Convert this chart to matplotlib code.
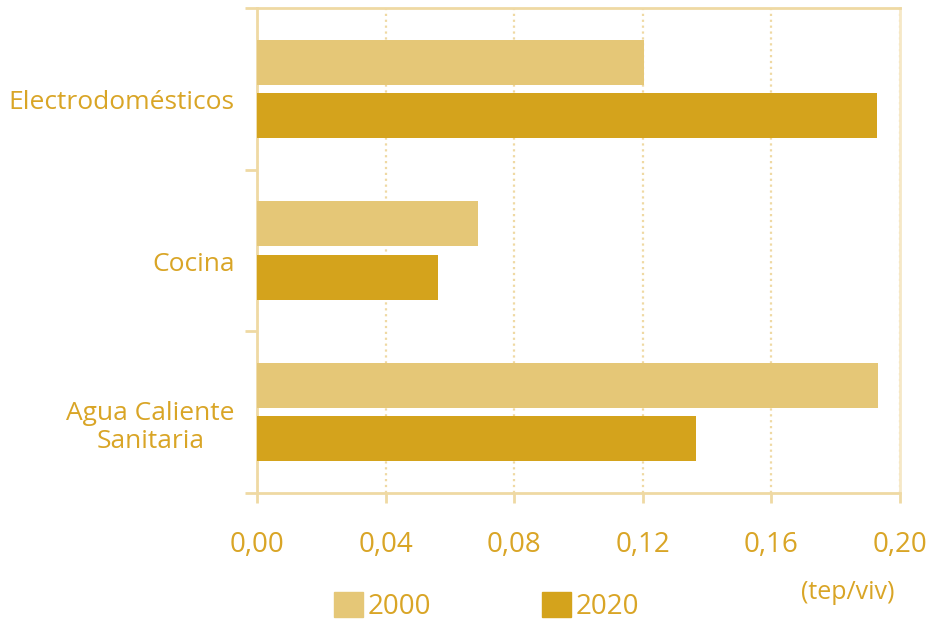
import numpy as np
import matplotlib.pyplot as plt
from matplotlib.patches import Patch

plt.rcParams['font.family'] = ['Open Sans', 'DejaVu Sans']

categorias = ['Electrodomésticos', 'Cocina', 'Agua Caliente\nSanitaria']
valores_2000 = [0.1205, 0.0688, 0.1932]
valores_2020 = [0.1928, 0.0563, 0.1365]
ticks_x = [0.00, 0.04, 0.08, 0.12, 0.16, 0.20]

c_claro = '#E5C777'
c_oscuro = '#D4A31C'
c_texto = '#D9A526'
c_eje = '#EFD9A3'

fig = plt.figure(figsize=(9.39, 6.25), dpi=100)
ax = fig.add_axes([0.2737, 0.2112, 0.9585 - 0.2737, 0.9872 - 0.2112])

y = np.arange(len(categorias))
alto = 0.28
ax.barh(y - 0.165, valores_2000, height=alto, color=c_claro, label='2000', zorder=3)
ax.barh(y + 0.165, valores_2020, height=alto, color=c_oscuro, label='2020', zorder=3)

ax.set_xlim(0, 0.20)
ax.set_ylim(2.5, -0.5)

ax.set_xticks(ticks_x)
ax.set_xticklabels([f'{t:.2f}'.replace('.', ',') for t in ticks_x],
                   fontsize=20, color=c_texto)
# etiquetas de categoría algo por debajo del centro del grupo
ax.set_yticks(y + 0.065)
ax.set_yticklabels(categorias, fontsize=19, color=c_texto, linespacing=1.15)
for et in ax.get_yticklabels():
    et.set_multialignment('center')
ax.set_yticks([-0.5, 0.5, 1.5, 2.5], minor=True)

ax.tick_params(axis='x', length=7, width=2, color=c_eje, pad=20)
ax.tick_params(axis='y', which='major', length=0, pad=16)
ax.tick_params(axis='y', which='minor', length=9, width=2, color=c_eje)

for lado in ['left', 'bottom', 'top']:
    ax.spines[lado].set_color(c_eje)
    ax.spines[lado].set_linewidth(2)
ax.spines['right'].set_color('#F6E8C6')
ax.spines['right'].set_linewidth(2)

ax.grid(axis='x', linestyle=':', color=c_eje, linewidth=1.6, zorder=0)

manejadores = [Patch(color=c_claro, label='2000'), Patch(color=c_oscuro, label='2020')]
fig.legend(handles=manejadores, loc='center', bbox_to_anchor=(0.518, 0.03), ncol=2,
           frameon=False, fontsize=20, labelcolor=c_texto, handlelength=1.05,
           handleheight=1.05, handletextpad=0.15, columnspacing=4.0)

fig.text(0.953, 0.052, '(tep/viv)', fontsize=18, color=c_texto, ha='right', va='center')

plt.savefig('out.png', dpi=100)
plt.close()
